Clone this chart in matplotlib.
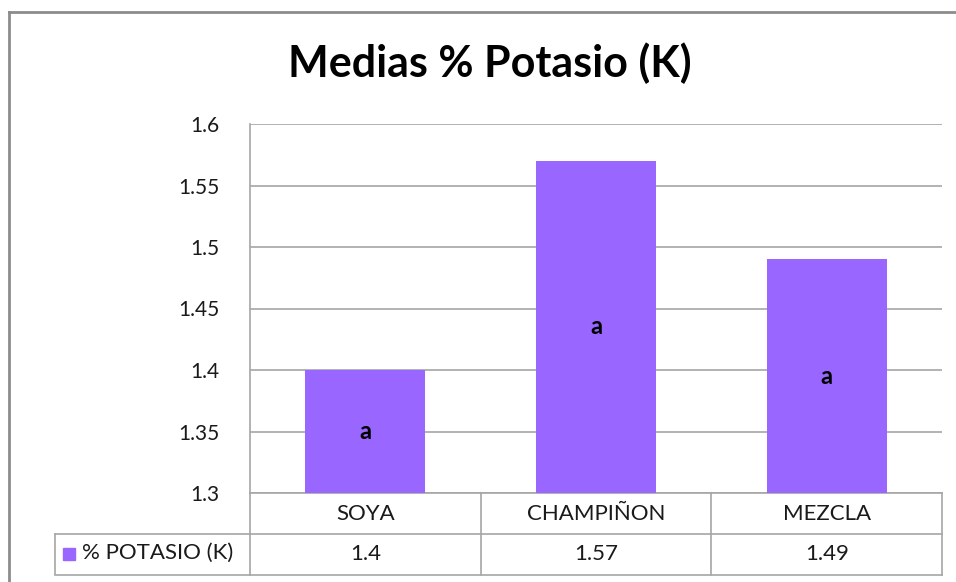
import matplotlib
matplotlib.use("Agg")
import matplotlib.pyplot as plt
from matplotlib.lines import Line2D
from matplotlib.patches import Rectangle
import matplotlib.transforms as mtransforms

categories = ["SOYA", "CHAMPIÑON", "MEZCLA"]
values = [1.4, 1.57, 1.49]
value_labels = ["1.4", "1.57", "1.49"]
letters = ["a", "a", "a"]
series_name = "% POTASIO (K)"
title = "Medias % Potasio (K)"
yticks = [1.3, 1.35, 1.4, 1.45, 1.5, 1.55, 1.6]
ytick_labels = ["1.3", "1.35", "1.4", "1.45", "1.5", "1.55", "1.6"]

bar_color = "#9966FF"
grid_color = "#A6A6A6"
text_color = "#1A1A1A"
font = ["Lato", "DejaVu Sans"]

W, H = 956, 582
fig = plt.figure(figsize=(W / 100, H / 100), dpi=100)
plt.rcParams["font.family"] = font


def px(x, y):
    # pixel coords (top-left origin) -> figure fraction
    return x / W, 1 - y / H


# outer chart frame (only left and top edges visible)
fig.add_artist(Line2D([9 / W, 9 / W], [0, 1 - 12 / H], transform=fig.transFigure,
                      color="#8C8C8C", lw=2))
fig.add_artist(Line2D([9 / W, 1], [1 - 12 / H, 1 - 12 / H], transform=fig.transFigure,
                      color="#8C8C8C", lw=2))

left, top, right, bottom = 250, 124, 942, 493
ax = fig.add_axes([left / W, 1 - bottom / H, (right - left) / W, (bottom - top) / H])

x = list(range(len(categories)))
ax.bar(x, [v - yticks[0] for v in values], bottom=yticks[0], width=0.52,
       color=bar_color, zorder=3)
for i, (v, lt) in enumerate(zip(values, letters)):
    ax.text(i, (v + yticks[0]) / 2, lt, ha="center", va="center",
            fontsize=17, fontweight="bold", color="black", zorder=4)

ax.set_xlim(-0.5, 2.5)
ax.set_ylim(yticks[0], yticks[-1])
ax.set_yticks(yticks)
ax.set_yticklabels(ytick_labels, fontsize=15, color=text_color)
ax.tick_params(axis="y", length=0, pad=22)
ax.set_xticks([])
ax.yaxis.grid(True, color=grid_color, lw=1.2, zorder=0)
for s in ["top", "right", "bottom"]:
    ax.spines[s].set_visible(False)
ax.spines["left"].set_color(grid_color)
ax.spines["left"].set_linewidth(1.2)

# data table below the plot
row_h = 41 / (bottom - top)
trans = mtransforms.blended_transform_factory(ax.transData, ax.transAxes)
line_kw = dict(color=grid_color, lw=1.2, clip_on=False)
for b in [-0.5, 0.5, 1.5, 2.5]:
    ax.add_line(Line2D([b, b], [0, -2 * row_h], transform=trans, **line_kw))
for yy in [-row_h, -2 * row_h]:
    ax.add_line(Line2D([55 / W, right / W], [1 - (bottom + (-yy) * (bottom - top)) / H] * 2,
                       transform=fig.transFigure, **line_kw))
ax.add_line(Line2D([55 / W, 55 / W], [1 - 534 / H, 1 - 574 / H],
                   transform=fig.transFigure, **line_kw))
ax.add_line(Line2D([-0.5, 2.5], [0, 0], transform=trans, **line_kw))

for i, (c, vl) in enumerate(zip(categories, value_labels)):
    ax.text(i, -row_h / 2, c, transform=trans, ha="center", va="center",
            fontsize=16, color=text_color)
    ax.text(i, -1.5 * row_h, vl, transform=trans, ha="center", va="center",
            fontsize=16, color=text_color)

# legend key + series name in the first cell
fig.add_artist(Rectangle(px(63, 560), 12 / W, 12 / H, transform=fig.transFigure,
                         color=bar_color))
fig.text(*px(82, 553), series_name, ha="left", va="center", fontsize=16, color=text_color)

fig.text(*px(490, 63), title, ha="center", va="center", fontsize=31,
         fontweight="bold", color="black")

fig.savefig("out.png", dpi=100)
